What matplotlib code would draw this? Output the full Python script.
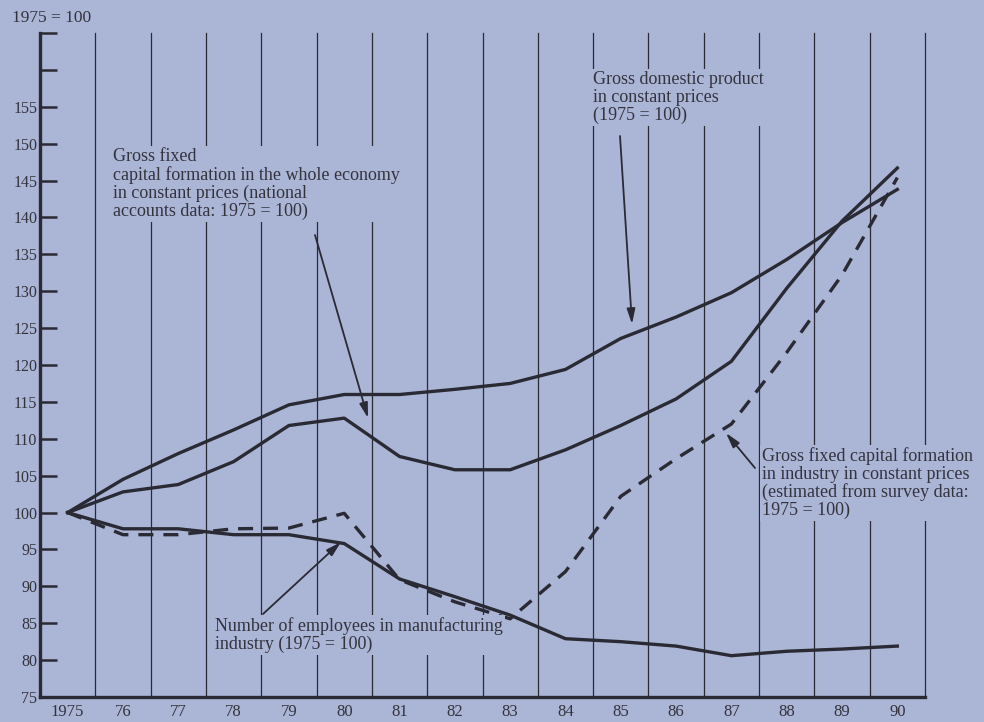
import matplotlib
matplotlib.use("Agg")
import matplotlib.pyplot as plt
import numpy as np

years = list(range(1975, 1991))
year_labels = ["1975", "76", "77", "78", "79", "80", "81", "82", "83", "84",
               "85", "86", "87", "88", "89", "90"]
gdp = [100, 104.5, 108, 111.2, 114.6, 116, 116, 116.7, 117.5, 119.4,
       123.6, 126.5, 129.8, 134.3, 139.3, 143.8]
gfcf_total = [100, 102.8, 103.8, 106.9, 111.8, 112.8, 107.6, 105.8, 105.8, 108.5,
              111.8, 115.4, 120.5, 130.4, 139.5, 146.7]
gfcf_industry = [100, 97, 97, 97.8, 97.9, 99.9, 90.9, 87.9, 85.6, 92,
                 102.2, 107.3, 112, 121.7, 132.2, 145.4]
employees = [100, 97.8, 97.8, 97, 97, 95.8, 91, 88.6, 86.1, 82.9,
             82.5, 81.9, 80.6, 81.2, 81.5, 81.9]
y_ticks = list(range(75, 170, 5))
y_tick_labels = [str(v) if v <= 155 else "" for v in y_ticks]

BG = "#abb5d6"
INK = "#2a2a34"
TXT = "#33333d"
FONT = ["Liberation Serif", "DejaVu Serif"]
plt.rcParams["font.family"] = FONT

fig = plt.figure(figsize=(9.84, 7.22), dpi=100, facecolor=BG)
ax = fig.add_axes([40/984, 1-697/722, (925-40)/984, (697-33)/722], facecolor=BG)
ax.set_xlim(1974.5, 1990.5)
ax.set_ylim(75, 165)

# vertical rules between years
for gx in np.arange(1975.5, 1991, 1.0):
    ax.axvline(gx, color=INK, lw=0.9, zorder=1, clip_on=False)

lw = 2.4
ax.plot(years, gdp, color=INK, lw=lw, zorder=3)
ax.plot(years, gfcf_total, color=INK, lw=lw, zorder=3)
ax.plot(years, gfcf_industry, color=INK, lw=lw, ls=(0, (4.5, 3)), zorder=3)
ax.plot(years, employees, color=INK, lw=lw, zorder=3)

for s in ["top", "right"]:
    ax.spines[s].set_visible(False)
ax.spines["left"].set_linewidth(2.4)
ax.spines["bottom"].set_linewidth(2.4)
ax.spines["left"].set_color(INK)
ax.spines["bottom"].set_color(INK)

ax.set_yticks(y_ticks)
ax.set_yticklabels(y_tick_labels)
ax.tick_params(axis="y", direction="in", length=12, width=1.8, color=INK,
               labelsize=11.5, labelcolor=TXT, pad=2)
ax.set_xticks(years)
ax.set_xticklabels(year_labels)
ax.tick_params(axis="x", length=0, labelsize=12, labelcolor=TXT, pad=5)

fig.text(12/984, 1-18/722, "1975 = 100", fontsize=12.5, color=TXT,
         va="center", ha="left")

box = dict(facecolor=BG, edgecolor="none", pad=1.5)
arrow = dict(arrowstyle="-|>,head_length=0.9,head_width=0.25", color=INK, lw=1.3,
             shrinkA=0, shrinkB=0)

def px(x, y):
    return ax.transData.inverted().transform(fig.transFigure.transform((x/984, 1-y/722)))

fig.canvas.draw()
FS = 13
LS = 1.05

# GDP annotation
ax.annotate("", xy=px(632, 324), xytext=px(620, 136), arrowprops=arrow, zorder=4)
ax.text(*px(593, 71), "Gross domestic product\nin constant prices\n(1975 = 100)",
        fontsize=FS, color=TXT, ha="left", va="top", linespacing=LS,
        bbox=box, zorder=5)

# whole economy annotation
ax.annotate("", xy=px(368, 418), xytext=px(315, 235), arrowprops=arrow, zorder=4)
ax.text(*px(113, 148), "Gross fixed\ncapital formation in the whole economy\n"
        "in constant prices (national\naccounts data: 1975 = 100)",
        fontsize=FS, color=TXT, ha="left", va="top", linespacing=LS,
        bbox=box, zorder=5)

# industry annotation
ax.annotate("", xy=px(726, 433), xytext=px(755, 468), arrowprops=arrow, zorder=4)
ax.text(*px(762, 447), "Gross fixed capital formation\nin industry in constant prices\n"
        "(estimated from survey data:\n1975 = 100)",
        fontsize=FS, color=TXT, ha="left", va="top", linespacing=LS,
        bbox=box, zorder=5)

# employees annotation
ax.annotate("", xy=px(341, 542), xytext=px(263, 614), arrowprops=arrow, zorder=4)
ax.text(*px(215, 617), "Number of employees in manufacturing\nindustry (1975 = 100)",
        fontsize=FS, color=TXT, ha="left", va="top", linespacing=LS,
        bbox=box, zorder=5)

fig.savefig("out.png", dpi=100, facecolor=BG)
